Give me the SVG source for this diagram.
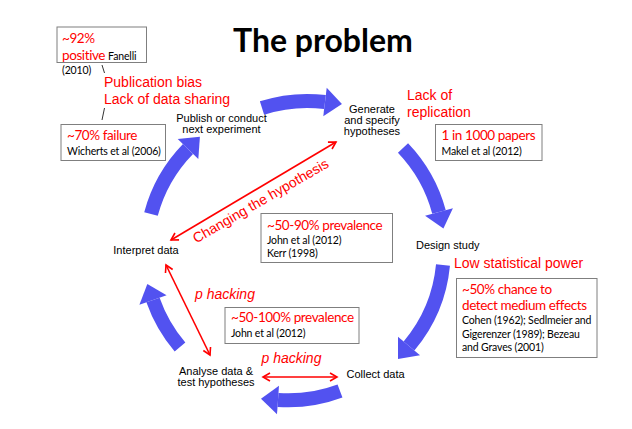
<svg xmlns="http://www.w3.org/2000/svg" width="632" height="429" viewBox="0 0 632 429">
  <defs>
    <marker id="bigHead" markerUnits="userSpaceOnUse" markerWidth="20" markerHeight="32" viewBox="0 -15 17 30" refX="0" refY="0" orient="auto">
      <path d="M0,-13.5 L16,0 L0,13.5 Z" fill="#5252F0"/>
    </marker>
    <marker id="redHead" markerUnits="userSpaceOnUse" markerWidth="12" markerHeight="12" viewBox="-9 -6 11 12" refX="0" refY="0" orient="auto-start-reverse">
      <path d="M-7,-4 L0,0 L-7,4" fill="none" stroke="#FF0000" stroke-width="1.6"/>
    </marker>
  </defs>
  <style>
    .cycle { fill: none; stroke: #5252F0; stroke-width: 14; marker-end: url(#bigHead); }
    .link { fill: none; stroke: #FF0000; stroke-width: 1.6; marker-start: url(#redHead); marker-end: url(#redHead); }
    .tick { stroke: #000; stroke-width: 0.8; }
    .box { fill: #FFFFFF; stroke: #7F7F7F; stroke-width: 1; }
    .step { font-family: "Liberation Sans", Arial, sans-serif; font-size: 11px; fill: #000; }
    .issue { font-family: "Liberation Sans", Arial, sans-serif; font-size: 14px; fill: #FF0000; }
    .ital { font-style: italic; }
    .stat { font-family: Lato, "Liberation Sans", sans-serif; font-size: 13.5px; letter-spacing: -0.4px; fill: #FF0000; }
    .ref { font-family: Lato, "Liberation Sans", sans-serif; font-size: 10.5px; letter-spacing: -0.15px; fill: #000; }
    .title { font-family: Lato, "Liberation Sans", sans-serif; font-size: 32px; font-weight: bold; fill: #000; }
  </style>

  <rect width="632" height="429" fill="#FFFFFF"/>

  <text class="title" x="233" y="52">The problem</text>

  <!-- research cycle arrows -->
  <g id="connectors">
    <path class="cycle" d="M262,108 A148,148 0 0 1 325,102"/>
    <path class="cycle" d="M403,148 A148,148 0 0 1 439,212"/>
    <path class="cycle" d="M443,265 A148,148 0 0 1 409,346"/>
    <path class="cycle" d="M340,391 A148,148 0 0 1 278,400"/>
    <path class="cycle" d="M180,347 A148,148 0 0 1 153,300"/>
    <path class="cycle" d="M151,214 A148,148 0 0 1 188,149"/>
    <!-- questionable practices between steps -->
    <path class="link" d="M171,240 L336,142"/>
    <path class="link" d="M166,265 L210,355"/>
    <path class="link" d="M263,377 L337,377"/>
    <!-- leader ticks from the publication-bias label -->
    <line class="tick" x1="102" y1="65" x2="104.5" y2="73"/>
    <line class="tick" x1="104.5" y1="108" x2="102" y2="120"/>
  </g>

  <!-- cycle steps -->
  <g id="step-generate">
    <text class="step" x="372" y="113" text-anchor="middle">Generate</text>
    <text class="step" x="372" y="124" text-anchor="middle">and specify</text>
    <text class="step" x="372" y="135" text-anchor="middle">hypotheses</text>
  </g>
  <g id="step-design">
    <text class="step" x="416" y="249">Design study</text>
  </g>
  <g id="step-collect">
    <text class="step" x="346.5" y="378">Collect data</text>
  </g>
  <g id="step-analyse">
    <text class="step" x="216" y="375" text-anchor="middle">Analyse data &amp;</text>
    <text class="step" x="216" y="386" text-anchor="middle">test hypotheses</text>
  </g>
  <g id="step-interpret">
    <text class="step" x="146" y="254" text-anchor="middle">Interpret data</text>
  </g>
  <g id="step-publish">
    <text class="step" x="221.5" y="122" text-anchor="middle">Publish or conduct</text>
    <text class="step" x="221.5" y="133" text-anchor="middle">next experiment</text>
  </g>

  <!-- problems at each step -->
  <g id="issue-publication">
    <text class="issue" x="104" y="87">Publication bias</text>
    <text class="issue" x="104" y="104">Lack of data sharing</text>
  </g>
  <g id="issue-replication">
    <text class="issue" x="407" y="100">Lack of</text>
    <text class="issue" x="407" y="116.5">replication</text>
  </g>
  <g id="issue-power">
    <text class="issue" x="454" y="268">Low statistical power</text>
  </g>
  <g id="issue-changing">
    <text class="issue" transform="translate(263,205) rotate(-30)" text-anchor="middle">Changing the hypothesis</text>
  </g>
  <g id="issue-phack-1">
    <text class="issue ital" x="195" y="299">p hacking</text>
  </g>
  <g id="issue-phack-2">
    <text class="issue ital" x="261.5" y="363">p hacking</text>
  </g>

  <!-- evidence boxes -->
  <g id="box-positive">
    <rect class="box" x="57" y="27" width="89.5" height="35.5"/>
    <text class="stat" x="62" y="43">~92%</text>
    <text x="62" y="60"><tspan class="stat">positive</tspan><tspan class="ref" dx="3">Fanelli</tspan></text>
    <text class="ref" x="62" y="73.5">(2010)</text>
  </g>
  <g id="box-failure">
    <rect class="box" x="61" y="124.5" width="104.5" height="36"/>
    <text class="stat" x="67" y="140">~70% failure</text>
    <text class="ref" x="67" y="155">Wicherts et al (2006)</text>
  </g>
  <g id="box-replication">
    <rect class="box" x="435.5" y="124.5" width="106.5" height="36"/>
    <text class="stat" x="441.5" y="140">1 in 1000 papers</text>
    <text class="ref" x="441.5" y="154.5">Makel et al (2012)</text>
  </g>
  <g id="box-changing">
    <rect class="box" x="261" y="213.5" width="131.5" height="49"/>
    <text class="stat" x="267" y="230">~50-90% prevalence</text>
    <text class="ref" x="267" y="244">John et al (2012)</text>
    <text class="ref" x="267" y="257">Kerr (1998)</text>
  </g>
  <g id="box-phacking">
    <rect class="box" x="225" y="307.5" width="134" height="36"/>
    <text class="stat" x="231" y="322">~50-100% prevalence</text>
    <text class="ref" x="231" y="337">John et al (2012)</text>
  </g>
  <g id="box-power">
    <rect class="box" x="456.5" y="278.5" width="140.5" height="79"/>
    <text class="stat" x="462" y="293.5">~50% chance to</text>
    <text class="stat" x="462" y="310">detect medium effects</text>
    <text class="ref" x="462" y="324">Cohen (1962); Sedlmeier and</text>
    <text class="ref" x="462" y="337.5">Gigerenzer (1989); Bezeau</text>
    <text class="ref" x="462" y="350.5">and Graves (2001)</text>
  </g>
</svg>
